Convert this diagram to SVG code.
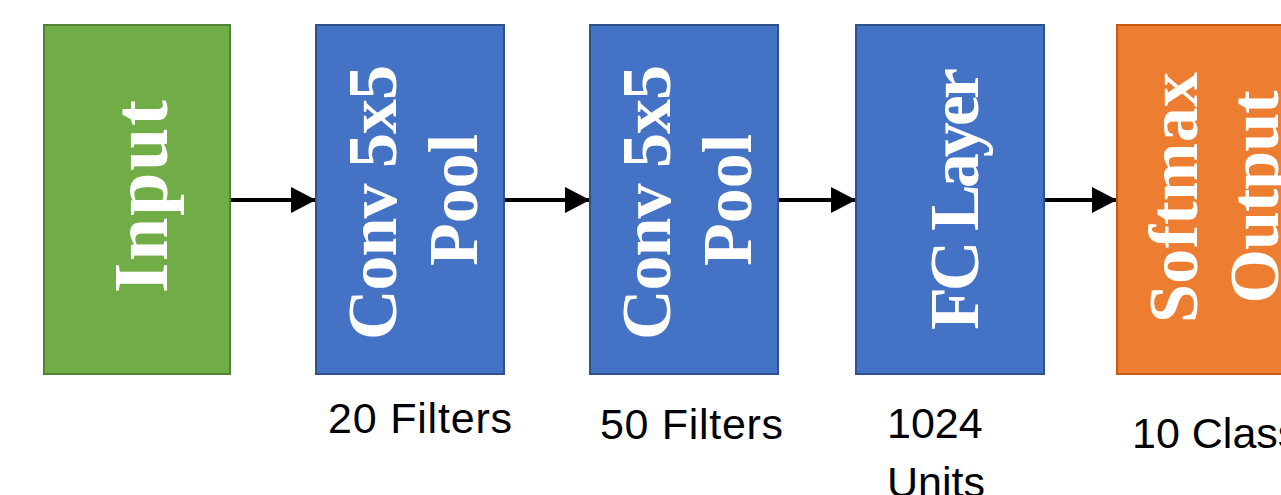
<svg xmlns="http://www.w3.org/2000/svg" width="1281" height="495" viewBox="0 0 1281 495">
<style>
.box{stroke-width:2}
.green{fill:#70AD47;stroke:#548235}
.blue{fill:#4472C4;stroke:#2F528F}
.orange{fill:#ED7D31;stroke:#C55A11}
.bt{font-family:"Liberation Serif","Times New Roman",serif;font-weight:bold;fill:#fff;text-anchor:middle;font-size:70px}
.lbl{font-family:"Liberation Sans",Arial,sans-serif;font-size:43px;fill:#000}
.conn{stroke:#000;stroke-width:4;fill:none}
</style>
<defs>
<marker id="ah" markerUnits="userSpaceOnUse" markerWidth="26" markerHeight="26" refX="25" refY="13" orient="auto">
<path d="M0,0 L25,13 L0,26 Z" fill="#000"/>
</marker>
</defs>
<rect width="1281" height="495" fill="#fff"/>
<g id="connectors">
<line class="conn" x1="231" y1="200" x2="316" y2="200" marker-end="url(#ah)"/>
<line class="conn" x1="505" y1="200" x2="590" y2="200" marker-end="url(#ah)"/>
<line class="conn" x1="779" y1="200" x2="856" y2="200" marker-end="url(#ah)"/>
<line class="conn" x1="1045" y1="200" x2="1117" y2="200" marker-end="url(#ah)"/>
</g>
<g id="input">
<rect class="box green" x="44" y="25" width="186" height="349"/>
<text class="bt" style="font-size:78px" transform="translate(167,196.5) rotate(-90)" textLength="193">Input</text>
</g>
<g id="conv1">
<rect class="box blue" x="316" y="25" width="188" height="349"/>
<text class="bt" transform="translate(396,202.5) rotate(-90)" textLength="275">Conv 5x5</text>
<text class="bt" transform="translate(477,200) rotate(-90)">Pool</text>
<text class="lbl" x="328" y="433" textLength="184">20 Filters</text>
</g>
<g id="conv2">
<rect class="box blue" x="590" y="25" width="188" height="349"/>
<text class="bt" transform="translate(670,202.5) rotate(-90)" textLength="275">Conv 5x5</text>
<text class="bt" transform="translate(751,200) rotate(-90)">Pool</text>
<text class="lbl" x="600" y="439" textLength="183">50 Filters</text>
</g>
<g id="fc">
<rect class="box blue" x="856" y="25" width="188" height="349"/>
<text class="bt" transform="translate(978,199) rotate(-90)" textLength="262">FC Layer</text>
<text class="lbl" x="887" y="438">1024</text>
<text class="lbl" x="887" y="497">Units</text>
</g>
<g id="softmax">
<rect class="box orange" x="1117" y="25" width="190" height="349"/>
<text class="bt" transform="translate(1197,197.5) rotate(-90)" textLength="251">Softmax</text>
<text class="bt" transform="translate(1278,197) rotate(-90)" textLength="213">Output</text>
<text class="lbl" x="1132" y="448">10 Classes</text>
</g>
</svg>
